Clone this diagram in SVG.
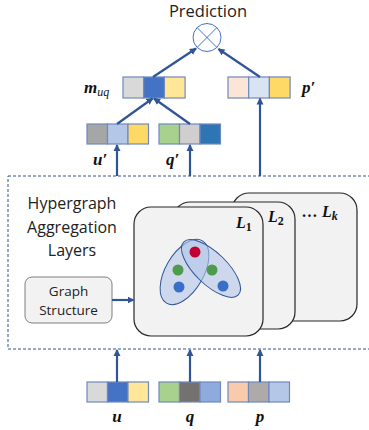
<svg xmlns="http://www.w3.org/2000/svg" width="369" height="430" viewBox="0 0 369 430">
<defs>
<marker id="ah" markerWidth="8" markerHeight="8" refX="6" refY="4" orient="auto" markerUnits="userSpaceOnUse">
<path d="M0,0.5 L7,4 L0,7.5 Z" fill="#2f5597"/>
</marker>
<style>
.sans{font-family:"Open Sans","Noto Sans","Liberation Sans",sans-serif;fill:#222}
.math{font-family:"Liberation Serif","DejaVu Serif",serif;font-weight:bold;font-style:italic;fill:#111}
.up{font-style:normal}
.cell{stroke:#6f89bd;stroke-width:1.2}
.con{stroke:#2f5597;stroke-width:2.2;fill:none;marker-end:url(#ah)}
.card{fill:#f2f2f2;stroke:#262626;stroke-width:1.2}
</style>
</defs>

<rect x="8" y="176" width="370" height="173" fill="none" stroke="#2f5597" stroke-width="1" stroke-dasharray="3,2"/>

<g id="prediction">
<text class="sans" x="208" y="16.5" font-size="16.5" text-anchor="middle">Prediction</text>
<circle cx="207" cy="37.5" r="14" fill="#fff" stroke="#4472c4" stroke-width="1"/>
<path d="M197.1,27.6 L216.9,47.4 M216.9,27.6 L197.1,47.4" stroke="#4472c4" stroke-width="1"/>
</g>

<g id="m_uq">
<rect class="cell" x="123" y="77" width="20.7" height="21" fill="#d9d9d9"/>
<rect class="cell" x="143.7" y="77" width="20.7" height="21" fill="#4472c4"/>
<rect class="cell" x="164.4" y="77" width="20.7" height="21" fill="#ffe699"/>
<text class="math" x="84" y="93" font-size="17">m<tspan font-size="12" font-weight="normal" dy="3">uq</tspan></text>
</g>

<g id="p_prime">
<rect class="cell" x="228" y="77" width="20.7" height="21" fill="#fbe5d6"/>
<rect class="cell" x="248.7" y="77" width="20.7" height="21" fill="#dae3f3"/>
<rect class="cell" x="269.4" y="77" width="20.7" height="21" fill="#ffd966"/>
<text class="math" x="302" y="93" font-size="17">p′</text>
</g>

<g id="u_prime">
<rect class="cell" x="87" y="124" width="20.5" height="20" fill="#a6a6a6"/>
<rect class="cell" x="107.5" y="124" width="20.5" height="20" fill="#b4c7e7"/>
<rect class="cell" x="128" y="124" width="20.5" height="20" fill="#ffd966"/>
<text class="math" x="93" y="165" font-size="17">u′</text>
</g>

<g id="q_prime">
<rect class="cell" x="159" y="124" width="20.5" height="20" fill="#a9d18e"/>
<rect class="cell" x="179.5" y="124" width="20.5" height="20" fill="#d0cece"/>
<rect class="cell" x="200" y="124" width="20.5" height="20" fill="#2e75b6"/>
<text class="math" x="166" y="165" font-size="17">q′</text>
</g>

<g id="title">
<text class="sans" x="72" y="209" font-size="16" text-anchor="middle">Hypergraph</text>
<text class="sans" x="72" y="233" font-size="16" text-anchor="middle">Aggregation</text>
<text class="sans" x="72" y="256" font-size="16" text-anchor="middle">Layers</text>
</g>

<g id="graph_structure">
<rect x="25" y="277" width="87" height="46" rx="7" fill="#f2f2f2" stroke="#7f7f7f" stroke-width="1"/>
<text class="sans" x="68.5" y="296" font-size="13.5" text-anchor="middle" fill="#333">Graph</text>
<text class="sans" x="68.5" y="315" font-size="13.5" text-anchor="middle" fill="#333">Structure</text>
</g>

<g id="layer_k">
<rect class="card" x="232" y="193" width="125" height="128" rx="17"/>
<text class="math" x="302" y="217" font-size="16">… L<tspan font-size="12" dy="3">k</tspan></text>
</g>
<g id="layer_2">
<rect class="card" x="173" y="202" width="122" height="127" rx="17"/>
<text class="math" x="268" y="222" font-size="16">L<tspan class="up" font-size="12" dy="3">2</tspan></text>
</g>
<g id="layer_1">
<rect class="card" x="134" y="207" width="129" height="129" rx="17"/>
<text class="math" x="236" y="228" font-size="16">L<tspan class="up" font-size="12" dy="3">1</tspan></text>
<ellipse cx="184.5" cy="272" rx="36" ry="19" transform="rotate(-60 184.5 272)" fill="#b4c7e7" fill-opacity="0.6" stroke="#2f5597" stroke-width="1"/>
<ellipse cx="211" cy="268.5" rx="38" ry="16" transform="rotate(44 211 268.5)" fill="#b4c7e7" fill-opacity="0.6" stroke="#2f5597" stroke-width="1"/>
<circle cx="195" cy="252" r="5.5" fill="#c00033"/>
<circle cx="178" cy="270" r="5.5" fill="#4e9a4e"/>
<circle cx="212" cy="270" r="5.5" fill="#4e9a4e"/>
<circle cx="179" cy="287" r="5.5" fill="#3a6fc9"/>
<circle cx="223" cy="286" r="5.5" fill="#3a6fc9"/>
</g>

<g id="u">
<rect class="cell" x="87" y="382" width="20.5" height="20" fill="#d9d9d9"/>
<rect class="cell" x="107.5" y="382" width="20.5" height="20" fill="#4472c4"/>
<rect class="cell" x="128" y="382" width="20.5" height="20" fill="#ffe699"/>
<text class="math" x="117" y="422" font-size="17" text-anchor="middle">u</text>
</g>
<g id="q">
<rect class="cell" x="159" y="382" width="20.5" height="20" fill="#a9d18e"/>
<rect class="cell" x="179.5" y="382" width="20.5" height="20" fill="#767171"/>
<rect class="cell" x="200" y="382" width="20.5" height="20" fill="#8faadc"/>
<text class="math" x="190" y="422" font-size="17" text-anchor="middle">q</text>
</g>
<g id="p">
<rect class="cell" x="228" y="382" width="20.5" height="20" fill="#f8cbad"/>
<rect class="cell" x="248.5" y="382" width="20.5" height="20" fill="#aeaaaa"/>
<rect class="cell" x="269" y="382" width="20.5" height="20" fill="#b4c7e7"/>
<text class="math" x="260" y="422" font-size="17" text-anchor="middle">p</text>
</g>

<g id="connectors">
<line class="con" x1="153" y1="77" x2="196" y2="48.5"/>
<line class="con" x1="260" y1="77" x2="218.5" y2="49"/>
<line class="con" x1="117" y1="124" x2="152.5" y2="98.5"/>
<line class="con" x1="190" y1="124" x2="154" y2="98.5"/>
<line class="con" x1="117" y1="176" x2="117" y2="145"/>
<line class="con" x1="190" y1="176" x2="190" y2="145"/>
<line class="con" x1="260" y1="176" x2="260" y2="98.5"/>
<line class="con" x1="112" y1="300" x2="133.5" y2="300"/>
<line class="con" x1="117" y1="382" x2="117" y2="350"/>
<line class="con" x1="190" y1="382" x2="190" y2="350"/>
<line class="con" x1="260" y1="382" x2="260" y2="350"/>
</g>
</svg>
